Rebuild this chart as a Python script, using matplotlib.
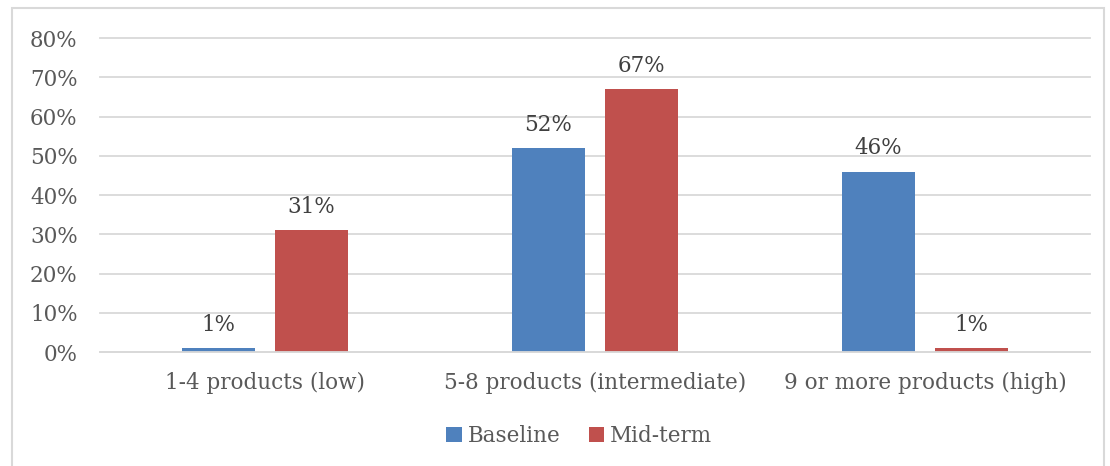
import matplotlib
matplotlib.use('Agg')
import numpy as np
import matplotlib.pyplot as plt
import matplotlib.patches as patches

# data
categories = ['1-4 products (low)', '5-8 products (intermediate)', '9 or more products (high)']
baseline = [1, 52, 46]
midterm = [31, 67, 1]
series_names = ['Baseline', 'Mid-term']
yticks = [0, 10, 20, 30, 40, 50, 60, 70, 80]

BLUE = '#4f81bd'
RED = '#c0504d'
TEXT = '#595959'
GRID = '#d9d9d9'

plt.rcParams['font.family'] = ['DejaVu Serif']

fig = plt.figure(figsize=(11.1, 4.66), dpi=100, facecolor='white')
ax = fig.add_axes([0.090, 0.2446, 0.892, 0.6734])

# outer chart frame
fig.patches.append(patches.Rectangle(
    (12 / 1110, -0.02), 1092 / 1110, 1 - 8 / 466 + 0.02,
    transform=fig.transFigure, fill=False, edgecolor='#d9d9d9', linewidth=1.5))

x = np.arange(len(categories))
w = 0.22
off = 0.141
b1 = ax.bar(x - off, baseline, w, color=BLUE, label=series_names[0], zorder=2)
b2 = ax.bar(x + off, midterm, w, color=RED, label=series_names[1], zorder=2)

for bars, vals in ((b1, baseline), (b2, midterm)):
    for bar, v in zip(bars, vals):
        ax.annotate(f'{v}%', (bar.get_x() + bar.get_width() / 2, v),
                    xytext=(0, 9), textcoords='offset points',
                    ha='center', va='bottom', fontsize=15.5, color='#404040')

ax.set_xlim(-0.5, 2.5)
ax.set_ylim(0, 80)
ax.set_yticks(yticks)
ax.set_yticklabels([f'{t}%' for t in yticks])
ax.set_xticks(x)
ax.set_xticklabels(categories)
ax.tick_params(axis='y', length=0, pad=16, labelsize=15.5, labelcolor=TEXT)
ax.tick_params(axis='x', length=0, pad=14, labelsize=15.5, labelcolor=TEXT)
ax.yaxis.grid(True, color=GRID, linewidth=1.3, zorder=0)
for gl in ax.yaxis.get_gridlines():
    gl.set_clip_on(False)
ax.set_axisbelow(True)
for s in ('top', 'right', 'left'):
    ax.spines[s].set_visible(False)
ax.spines['bottom'].set_color(GRID)
ax.spines['bottom'].set_linewidth(1.3)

leg = fig.legend(handles=[b1, b2], loc='center', bbox_to_anchor=(0.522, 1 - 436 / 466),
                 ncol=2, frameon=False, fontsize=15.5, handlelength=0.7, handleheight=0.7,
                 handletextpad=0.3, columnspacing=1.3)
for t in leg.get_texts():
    t.set_color(TEXT)

plt.savefig('out.png', dpi=100, facecolor='white')
plt.close()
